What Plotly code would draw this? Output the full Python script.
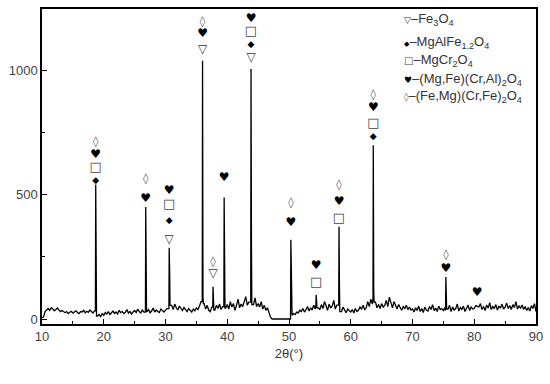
import numpy as np
import plotly.graph_objects as go

# ---------------- data ----------------
two_theta_start = 10.0
two_theta_step = 0.25

baseline_counts = (
    [5, 8, 30, 38, 42, 35, 45, 40, 33, 38, 44, 36, 30, 34, 28, 25, 30, 22, 27, 31]      # 10-15
    + [24, 29, 33, 26, 22, 30, 28, 35, 25, 31, 27, 36, 30, 24, 33, 28, 12, 18, 10, 22]  # 15-20
    + [15, 26, 20, 30, 18, 25, 32, 22, 28, 20, 35, 26, 30, 22, 27, 38, 24, 30, 20, 28]  # 20-25
    + [34, 26, 40, 30, 24, 36, 28, 22, 30, 38, 25, 32, 44, 28, 36, 30, 26, 40, 32, 28]  # 25-30
    + [36, 42, 30, 48, 55, 38, 60, 45, 36, 52, 40, 34, 46, 38, 30, 42, 35, 28, 40, 33]  # 30-35
    + [45, 38, 52, 70, 45, 62, 40, 55, 35, 30, 48, 28, 36, 55, 42, 60, 38, 50, 65, 44]  # 35-40
    + [58, 40, 70, 48, 62, 35, 55, 80, 45, 60, 50, 72, 90, 55, 68, 42, 75, 58, 85, 50]  # 40-45
    + [62, 48, 70, 40, 55, 35, 45, 25, 8, 0, 0, 0, 0, 0, 0, 0, 0, 0, 0, 0]              # 45-50
    + [0, 10, 15, 22, 18, 28, 25, 35, 30, 42, 28, 38, 50, 32, 45, 36, 55, 40, 62, 45]   # 50-55
    + [38, 58, 42, 70, 48, 35, 60, 44, 52, 75, 40, 56, 38, 62, 30, 48, 36, 25, 40, 32]  # 55-60
    + [28, 38, 24, 42, 30, 35, 48, 40, 55, 38, 45, 70, 50, 80, 60, 52, 68, 45, 58, 42]  # 60-65
    + [62, 48, 55, 75, 50, 88, 60, 45, 70, 52, 40, 58, 46, 35, 50, 42, 55, 38, 48, 36]  # 65-70
    + [40, 28, 45, 34, 52, 30, 42, 26, 48, 36, 32, 50, 38, 58, 34, 44, 30, 52, 38, 42]  # 70-75
    + [34, 46, 32, 40, 55, 30, 48, 36, 42, 60, 32, 46, 38, 52, 30, 44, 56, 34, 48, 40]  # 75-80
    + [42, 54, 36, 48, 62, 38, 50, 34, 56, 44, 66, 38, 50, 42, 58, 36, 52, 44, 60, 40]  # 80-85
    + [48, 64, 42, 54, 38, 58, 46, 70, 40, 52, 44, 56, 38, 50, 34, 46, 32, 54, 42, 62, 30]  # 85-90
)

peak_2theta = [18.7, 26.8, 30.6, 36.0, 37.7, 39.5, 43.85, 50.3, 54.4, 58.1, 63.65, 75.4, 80.45]
peak_counts = [540, 450, 286, 1037, 130, 488, 1004, 318, 97, 371, 698, 169, 50]
shoulder_counts = [190, 0, 190, 90, 0, 0, 290, 0, 0, 130, 120, 0, 0]

# phase markers: peak position and the intensity level at which the symbol sits
fe3o4_x = [30.6, 36.0, 37.7, 43.85]
fe3o4_y = [318, 1081, 181, 1048]
mgalfe_x = [18.7, 30.6, 43.85, 63.65]
mgalfe_y = [556, 395, 1102, 730]
mgcr_x = [18.7, 30.6, 43.85, 54.4, 58.1, 63.65]
mgcr_y = [609, 460, 1153, 146, 403, 786]
mgfecral_x = [18.7, 26.8, 30.6, 36.0, 39.5, 43.85, 50.3, 54.4, 58.1, 63.65, 75.4, 80.45]
mgfecral_y = [657, 484, 516, 1145, 565, 1204, 387, 211, 469, 847, 202, 106]
femgcrfe_x = [18.7, 26.8, 36.0, 37.7, 50.3, 58.1, 63.65, 75.4]
femgcrfe_y = [710, 560, 1193, 230, 464, 536, 900, 255]

x_tick_vals = [10, 20, 30, 40, 50, 60, 70, 80, 90]
y_tick_vals = [0, 500, 1000]

# ---------------- build the pattern ----------------
grid_x = two_theta_start + two_theta_step * np.arange(len(baseline_counts))
grid_y = np.array(baseline_counts, dtype=float)

keep = np.ones(len(grid_x), dtype=bool)
extra_x, extra_y = [], []
for p, h, s in zip(peak_2theta, peak_counts, shoulder_counts):
    keep &= ~((grid_x > p - 0.15) & (grid_x < p + 0.2))
    left_i = int(np.searchsorted(grid_x, p - 0.15)) - 1
    right_i = min(int(np.searchsorted(grid_x, p + 0.2)), len(grid_x) - 1)
    extra_x += [p - 0.05, p]
    extra_y += [grid_y[max(left_i, 0)], h]
    if s > 0:
        extra_x.append(p + 0.07)
        extra_y.append(s)
    extra_x.append(p + 0.13)
    extra_y.append(grid_y[right_i])

all_x = np.concatenate([grid_x[keep], extra_x])
all_y = np.concatenate([grid_y[keep], extra_y])
order = np.argsort(all_x)
all_x, all_y = all_x[order], all_y[order]

# ---------------- figure ----------------
fig = go.Figure()
fig.add_trace(go.Scatter(x=all_x, y=all_y, mode="lines",
                         line=dict(color="#000000", width=1.3), hoverinfo="skip"))

sym_font = "DejaVu Sans"
def add_symbols(xs, ys, glyph, size, color):
    fig.add_trace(go.Scatter(x=xs, y=ys, mode="text", text=[glyph] * len(xs),
                             textposition="middle center",
                             textfont=dict(family=sym_font, size=size, color=color),
                             hoverinfo="skip"))

add_symbols(fe3o4_x, fe3o4_y, "▽", 12, "#333333")
add_symbols(mgalfe_x, mgalfe_y, "◆", 9, "#000000")
add_symbols(mgcr_x, mgcr_y, "□", 13, "#444444")
add_symbols(mgfecral_x, mgfecral_y, "♥", 12, "#000000")
add_symbols(femgcrfe_x, femgcrfe_y, "◊", 11, "#555555")

legend_lines = [
    ("▽", "#333333", 9, "–Fe<sub>3</sub>O<sub>4</sub>"),
    ("◆", "#000000", 7, "–MgAlFe<sub>1.2</sub>O<sub>4</sub>"),
    ("□", "#444444", 10, "–MgCr<sub>2</sub>O<sub>4</sub>"),
    ("♥", "#000000", 9, "–(Mg,Fe)(Cr,Al)<sub>2</sub>O<sub>4</sub>"),
    ("◊", "#555555", 9, "–(Fe,Mg)(Cr,Fe)<sub>2</sub>O<sub>4</sub>"),
]
legend_y = [0.968, 0.895, 0.835, 0.777, 0.722]
for (g, c, gs, label), ly in zip(legend_lines, legend_y):
    fig.add_annotation(
        xref="paper", yref="paper", x=0.728, y=ly, xanchor="left", yanchor="middle",
        showarrow=False,
        text=f"<span style='font-family:DejaVu Sans;font-size:{gs}px;color:{c}'>{g}</span>{label}",
        font=dict(family="Liberation Sans", size=13, color="#333333"),
    )

axis_common = dict(showline=True, linecolor="#000000", linewidth=1.5, mirror=True,
                   ticks="inside", ticklen=5, tickwidth=1.2, tickcolor="#000000",
                   showgrid=False, zeroline=False, automargin=False,
                   tickfont=dict(family="Liberation Sans", size=13, color="#444444"))

fig.update_xaxes(range=[10, 90], tickvals=x_tick_vals,
                 minor=dict(ticks="inside", ticklen=3, dtick=5, tickcolor="#000000", showgrid=False),
                 title=dict(text="2θ(°)", font=dict(family="Liberation Sans", size=13, color="#333333"),
                            standoff=6),
                 **axis_common)
fig.update_yaxes(range=[-20, 1245], tickvals=y_tick_vals,
                 minor=dict(ticks="inside", ticklen=3, tickvals=[250, 750], tickcolor="#000000", showgrid=False),
                 **axis_common)

fig.update_layout(width=550, height=384, showlegend=False,
                  plot_bgcolor="#ffffff", paper_bgcolor="#ffffff",
                  margin=dict(l=42, r=14, t=9, b=60))

fig.write_html("out.html", config={"displayModeBar": False},
               post_script="document.body.style.margin='0';document.body.style.padding='0';")
